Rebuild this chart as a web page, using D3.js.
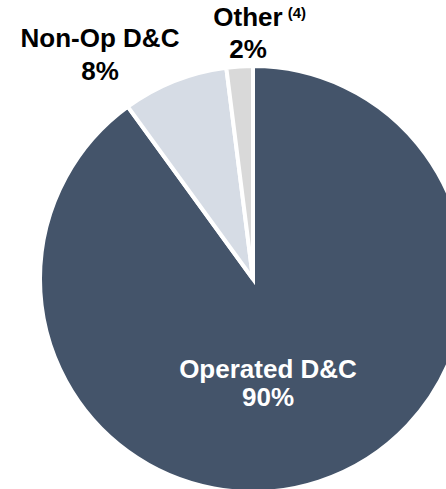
<!DOCTYPE html>
<html>
<head>
<meta charset="utf-8">
<script src="https://cdn.jsdelivr.net/npm/d3@7"></script>
<style>
  html, body { margin: 0; padding: 0; background: #fff; }
  svg { display: block; }
  text { font-family: "Liberation Sans", Arial, sans-serif; font-weight: bold; }
</style>
</head>
<body>
<svg id="chart" width="446" height="489"></svg>
<script>
// Capital allocation split
const categories = ["Operated D&C", "Non-Op D&C", "Other"];
const shares = [90, 8, 2];
const colors = ["#44546a", "#d6dce5", "#d9d9d9"];
const footnotes = ["", "", "(4)"];

const W = 446, H = 489;
const cx = 253, cy = 279, radius = 213;

const svg = d3.select("#chart");
const data = categories.map((c, i) => ({ name: c, value: shares[i], color: colors[i], note: footnotes[i] }));

const pie = d3.pie().value(d => d.value).sort(null);
const arc = d3.arc().innerRadius(0).outerRadius(radius);
const arcs = pie(data);

const g = svg.append("g").attr("transform", `translate(${cx},${cy})`);
g.selectAll("path")
  .data(arcs)
  .join("path")
  .attr("d", arc)
  .attr("fill", d => d.data.color)
  .attr("stroke", "#fff")
  .attr("stroke-width", 4)
  .attr("stroke-linejoin", "miter");

// Label placement: name baseline and percentage baseline
const labelPos = [
  { x: 268, y1: 378, y2: 406, fill: "#fff" },
  { x: 100, y1: 47, y2: 80, fill: "#000" },
  { x: 248, y1: 26, y2: 58, fill: "#000" }
];
const fontSize = 26;

arcs.forEach((a, i) => {
  const p = labelPos[i];
  const name = svg.append("text")
    .attr("x", p.x).attr("y", p.y1)
    .attr("text-anchor", "middle")
    .attr("fill", p.fill)
    .attr("font-size", fontSize)
    .text(a.data.name);
  if (a.data.note) {
    const bb = name.node().getBBox();
    svg.append("text")
      .attr("x", bb.x + bb.width + 5).attr("y", p.y1 - 8)
      .attr("fill", p.fill)
      .attr("font-size", 15)
      .text(a.data.note);
  }
  svg.append("text")
    .attr("x", p.x).attr("y", p.y2)
    .attr("text-anchor", "middle")
    .attr("fill", p.fill)
    .attr("font-size", fontSize)
    .text(d3.format(".0f")(a.data.value) + "%");
});
</script>
</body>
</html>
